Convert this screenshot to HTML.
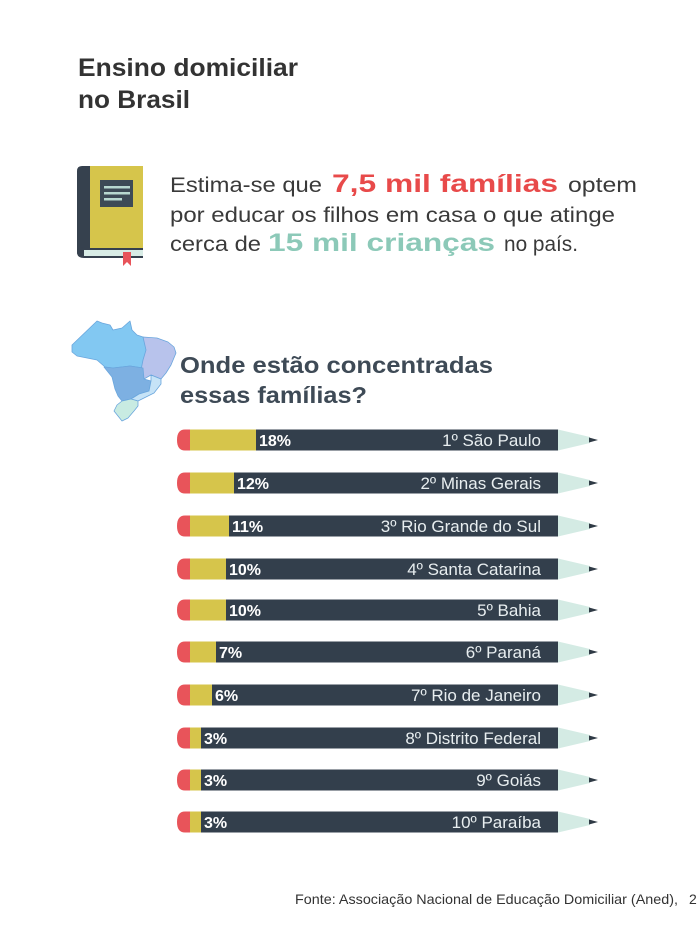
<!DOCTYPE html>
<html><head><meta charset="utf-8"><style>
html,body{margin:0;padding:0;background:#fff;}
svg{display:block;}
text{font-family:"Liberation Sans",sans-serif;}
</style></head><body>
<svg width="700" height="931" viewBox="0 0 700 931" xmlns="http://www.w3.org/2000/svg">
<rect width="700" height="931" fill="#fff"/>
<!-- Title -->
<text x="78" y="76" font-size="25" font-weight="bold" fill="#333" textLength="220" lengthAdjust="spacingAndGlyphs">Ensino domiciliar</text>
<text x="78" y="108" font-size="25" font-weight="bold" fill="#333" textLength="112" lengthAdjust="spacingAndGlyphs">no Brasil</text>

<!-- Book icon -->
<path d="M82,166 H90 V257 H82 Q77,257 77,252 V171 Q77,166 82,166 Z" fill="#36414e"/>
<rect x="90" y="166" width="53" height="84" fill="#d6c54b"/>
<path d="M77,252 Q77,247 84,248 H143 V258 H84 Q77,258 77,252 Z" fill="#36414e"/>
<rect x="84" y="250" width="59" height="6" fill="#d8ece6"/>
<rect x="100" y="180" width="33" height="27" fill="#3d4a56"/>
<rect x="104" y="186" width="26" height="2.5" fill="#b8d8d0"/>
<rect x="104" y="192" width="26" height="2.5" fill="#b8d8d0"/>
<rect x="104" y="198" width="18" height="2.5" fill="#b8d8d0"/>
<path d="M123,252 H131 V266 L127,262 L123,266 Z" fill="#e8545a"/>

<!-- Intro text -->
<text x="170" y="192" font-size="21" fill="#3a3a3a" textLength="152" lengthAdjust="spacingAndGlyphs">Estima-se que</text>
<text x="332" y="192" font-size="25" font-weight="bold" fill="#e84a4a" textLength="226" lengthAdjust="spacingAndGlyphs">7,5 mil famílias</text>
<text x="568" y="192" font-size="21" fill="#3a3a3a" textLength="69" lengthAdjust="spacingAndGlyphs">optem</text>
<text x="170" y="222" font-size="21" fill="#3a3a3a" textLength="445" lengthAdjust="spacingAndGlyphs">por educar os filhos em casa o que atinge</text>
<text x="170" y="251" font-size="21" fill="#3a3a3a" textLength="91" lengthAdjust="spacingAndGlyphs">cerca de</text>
<text x="268" y="251" font-size="25" font-weight="bold" fill="#8cc9b8" textLength="227" lengthAdjust="spacingAndGlyphs">15 mil crianças</text>
<text x="504" y="251" font-size="21" fill="#3a3a3a" textLength="74" lengthAdjust="spacingAndGlyphs">no país.</text>

<!-- Map of Brazil (approximation) -->
<g stroke="#6aa6dd" stroke-width="0.8" stroke-linejoin="round">
  <!-- North -->
  <polygon points="72,345 97,321 102,323 110,325 113,330 122,328 130,321 132,330 137,335 143,337 148,340 146,355 143,368 130,366 113,368 105,367 97,360 87,358 77,356 72,352" fill="#82c8f2"/>
  <!-- Northeast -->
  <polygon points="143,337 157,338 168,342 174,347 176,353 171,365 166,373 161,379 151,375 144,379 141,370 143,360 146,350" fill="#b8c3ec"/>
  <!-- Center-West -->
  <polygon points="104,367 113,368 130,366 143,368 144,379 151,381 149,391 139,394 131,399 122,401 118,396 115,389 112,377" fill="#7db0e2"/>
  <!-- Southeast -->
  <polygon points="151,375 161,379 161,384 154,393 144,398 138,401 131,399 139,394 149,391 151,381" fill="#c6e3f7"/>
  <!-- South -->
  <polygon points="122,401 131,399 138,401 138,406 134,411 128,418 122,421 114,411 117,405" fill="#c8ebe2"/>
</g>

<!-- Heading -->
<text x="180" y="373" font-size="23" font-weight="bold" fill="#3e4a56" textLength="313" lengthAdjust="spacingAndGlyphs">Onde estão concentradas</text>
<text x="180" y="403" font-size="23" font-weight="bold" fill="#3e4a56" textLength="187" lengthAdjust="spacingAndGlyphs">essas famílias?</text>

<!-- Pencils -->
<g id="pencils">
</g>
<script>
(function(){
var rows=[
 [440,66,"18%","1º São Paulo"],
 [483,44,"12%","2º Minas Gerais"],
 [526,39,"11%","3º Rio Grande do Sul"],
 [569,36,"10%","4º Santa Catarina"],
 [610,36,"10%","5º Bahia"],
 [652,26,"7%","6º Paraná"],
 [695,22,"6%","7º Rio de Janeiro"],
 [738,11,"3%","8º Distrito Federal"],
 [780,11,"3%","9º Goiás"],
 [822,11,"3%","10º Paraíba"]
];
var ns="http://www.w3.org/2000/svg";
var g=document.getElementById("pencils");
function el(t,a,txt){var e=document.createElementNS(ns,t);for(var k in a)e.setAttribute(k,a[k]);if(txt)e.textContent=txt;g.appendChild(e);return e;}
rows.forEach(function(r){
 var c=r[0],w=r[1],top=c-10.5,bot=c+10.5;
 el("path",{d:"M190,"+top+" H185 Q177,"+top+" 177,"+c+" Q177,"+bot+" 185,"+bot+" H190 Z",fill:"#e8545a"});
 el("rect",{x:190,y:top,width:w,height:21,fill:"#d6c54b"});
 el("rect",{x:190+w,y:top,width:558-190-w,height:21,fill:"#333f4c"});
 el("polygon",{points:"558,"+top+" 590,"+(c-3)+" 590,"+(c+3)+" 558,"+bot,fill:"#d4ebe4"});
 el("polygon",{points:"589,"+(c-2.5)+" 598,"+c+" 589,"+(c+2.5),fill:"#2f3a45"});
 el("text",{x:190+w+3,y:c+6,"font-size":16,"font-weight":"bold",fill:"#ffffff"},r[2]);
 el("text",{x:541,y:c+6,"font-size":17,fill:"#e8eef0","text-anchor":"end"},r[3]);
});
})();
</script>

<!-- Source -->
<text x="295" y="904" font-size="14" fill="#333" textLength="383" lengthAdjust="spacingAndGlyphs">Fonte: Associação Nacional de Educação Domiciliar (Aned),</text>
<text x="689" y="904" font-size="14" fill="#333">2</text>
</svg>
</body></html>
